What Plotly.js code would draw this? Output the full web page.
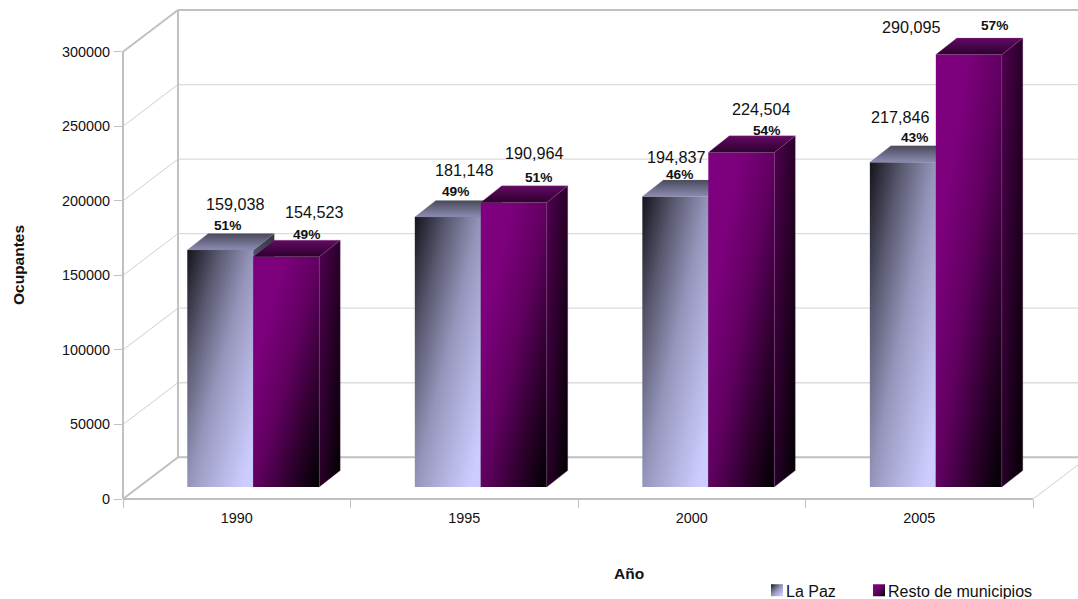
<!DOCTYPE html>
<html>
<head>
<meta charset="utf-8">
<script src="https://cdn.plot.ly/plotly-3.0.1.min.js"></script>
<style>html,body{margin:0;padding:0;background:#fff;overflow:hidden}</style>
</head>
<body>
<div id="chart" style="width:1078px;height:599px"></div>
<script>
// ---- data ----
const years = ['1990', '1995', '2000', '2005'];
const laPaz = [159038, 181148, 194837, 217846];
const resto = [154523, 190964, 224504, 290095];
const pctLaPaz = ['51%', '49%', '46%', '43%'];
const pctResto = ['49%', '51%', '54%', '57%'];
const yTicks = [0, 50000, 100000, 150000, 200000, 250000, 300000];

// ---- label placement, px from (category centre, value) ----
const offLaPazVal = [[-1, 58], [0, 59], [-15, 52], [-19, 57]];
const offRestoVal = [[78, 57], [70, 61], [70, 55], [-8, 39]];
const offLaPazPct = [[-9, 36], [-9, 37], [-12, 34], [-5, 37]];
const offRestoPct = [[70, 34], [74, 37], [75, 34], [75, 41]];

// ---- geometry of the pseudo-3D box ----
const W = 1078, H = 599, L = 122.7, T = 10, B = 498.7;
const pxPerCat = 227.6, pxPerUnit = 149 / 100000;
const xMin = -0.5, xMax = -0.5 + (W - L) / pxPerCat;
const yMin = 0, yMax = (B - T) / pxPerUnit;
const px = p => p / pxPerCat, py = p => p / pxPerUnit;
const wallDx = px(55), wallDy = py(41.7);
const barDx = px(21), barDy = py(16.5), barLift = py(11.9), barW = px(66);
const offA = px(-49.5), offB = px(16.5);
const fx = v => (v - xMin) / (xMax - xMin), fy = v => (v - yMin) / (yMax - yMin);

const GRAY = '#c0c0c0', LIGHT = '#dcdcdc';
const seg = (x0, y0, x1, y1, color, width) => ({
  type: 'line', layer: 'below', xref: 'paper', yref: 'paper',
  x0: fx(x0), y0: fy(y0), x1: fx(x1), y1: fy(y1), line: { color, width }
});
const shapes = [];
yTicks.forEach(v => {
  const edge = v === 0 || v === 300000;
  shapes.push(seg(xMin + wallDx, v + wallDy, xMax, v + wallDy, edge ? GRAY : LIGHT, edge ? 2 : 1.3));
  shapes.push(seg(xMin, v, xMin + wallDx, v + wallDy, edge ? GRAY : '#cfcfcf', edge ? 2 : 1));
});
shapes.push(seg(xMin, 0, xMin, 300000, GRAY, 2));
shapes.push(seg(xMin + wallDx, wallDy, xMin + wallDx, 300000 + wallDy, GRAY, 2));
shapes.push(seg(xMin, 0, 3.5, 0, GRAY, 2));
shapes.push(seg(3.5, 0, xMax, wallDy * (xMax - 3.5) / wallDx, '#cfcfcf', 1));

// ---- traces ----
const cats = years.map((_, i) => i);
const font = 'Liberation Sans, Arial, sans-serif';
const faces = (vals, off, xa, topKey, sideKey, edge) => vals.flatMap((v, i) => {
  const x0 = i + off, x1 = x0 + barW, y = v + barLift, y0 = barLift;
  const common = { type: 'scatter', mode: 'lines', fill: 'toself', xaxis: xa, yaxis: 'y',
    hoverinfo: 'skip', showlegend: false, line: { color: edge, width: 0.5 } };
  return [
    Object.assign({}, common, { fillcolor: sideKey,
      x: [x1, x1 + barDx, x1 + barDx, x1, x1], y: [y0, y0 + barDy, y + barDy, y, y0] }),
    Object.assign({}, common, { fillcolor: topKey,
      x: [x0, x0 + barDx, x1 + barDx, x1, x0], y: [y, y + barDy, y + barDy, y, y] })
  ];
});
const data = [
  { type: 'bar', name: 'La Paz', x: cats, y: laPaz, base: barLift, width: barW, offset: offA,
    xaxis: 'x', yaxis: 'y', marker: { color: 'rgb(204,204,255)', line: { width: 0 } }, hoverinfo: 'y' },
  ...faces(laPaz, offA, 'x', 'rgb(101,101,131)', 'rgb(41,41,51)', 'rgba(120,120,150,0.4)'),
  { type: 'bar', name: 'Resto de municipios', x: cats, y: resto, base: barLift, width: barW, offset: offB,
    xaxis: 'x2', yaxis: 'y', marker: { color: 'rgb(128,0,128)', line: { width: 0 } }, hoverinfo: 'y' },
  ...faces(resto, offB, 'x2', 'rgb(71,0,71)', 'rgb(51,0,51)', 'rgba(140,80,140,0.55)')
];

// ---- labels ----
const labels = (vals, texts, offs, size, bold) => vals.map((v, i) => ({
  xref: 'x', yref: 'y', x: i, y: v, xshift: offs[i][0], yshift: offs[i][1],
  text: bold ? '<b>' + texts[i] + '</b>' : texts[i], showarrow: false,
  xanchor: 'center', yanchor: 'middle', font: { family: font, size, color: '#111' }
}));
const fmt = a => a.map(v => v.toLocaleString('en-US'));
const annotations = [
  ...labels(laPaz, fmt(laPaz), offLaPazVal, 16.2, false),
  ...labels(resto, fmt(resto), offRestoVal, 16.2, false),
  ...labels(laPaz, pctLaPaz, offLaPazPct, 13.7, true),
  ...labels(resto, pctResto, offRestoPct, 13.7, true),
  { xref: 'paper', yref: 'paper', x: fx(px(629 - L) - 0.5), y: fy(py(B - 573)), text: '<b>Año</b>', showarrow: false,
    xanchor: 'center', yanchor: 'middle', font: { family: font, size: 15.5, color: '#111' } },
  { xref: 'paper', yref: 'paper', x: fx(px(18 - L) - 0.5), y: fy(py(B - 264.5)), text: '<b>Ocupantes</b>', textangle: -90,
    xanchor: 'center', yanchor: 'middle', showarrow: false, font: { family: font, size: 15.5, color: '#111' } }
];

const layout = {
  width: W, height: H, autosize: false, barmode: 'overlay', showlegend: true,
  paper_bgcolor: '#fff', plot_bgcolor: 'rgba(0,0,0,0)',
  margin: { l: L, r: 0, t: T, b: H - B, pad: 0, autoexpand: false },
  font: { family: font, size: 14, color: '#111' },
  xaxis: { range: [xMin, xMax], tickmode: 'array', tickvals: [-0.5, 0.5, 1.5, 2.5, 3.5], ticks: 'outside', ticklen: 8,
    tickcolor: GRAY, tickwidth: 1, showticklabels: false, showgrid: false, zeroline: false, showline: false, fixedrange: true },
  xaxis2: { overlaying: 'x', anchor: 'y', side: 'bottom', range: [xMin, xMax], tickmode: 'array', tickvals: cats, ticktext: years,
    ticks: 'outside', ticklen: 6, tickcolor: 'rgba(0,0,0,0)', showgrid: false, zeroline: false, showline: false,
    tickfont: { family: font, size: 14.4, color: '#111' }, fixedrange: true },
  yaxis: { range: [yMin, yMax], tickmode: 'array', tickvals: yTicks, ticktext: yTicks.map(String), ticks: 'outside', ticklen: 8,
    ticklabelstandoff: 1, tickcolor: GRAY, tickwidth: 1, showgrid: false, zeroline: false, showline: false,
    tickfont: { family: font, size: 14.4, color: '#111' }, fixedrange: true },
  legend: { orientation: 'h', x: fx(px(760 - L) - 0.5), y: fy(py(B - 590)), yanchor: 'middle', xanchor: 'left',
    bgcolor: 'rgba(0,0,0,0)', font: { family: font, size: 16, color: '#111' }, itemclick: false, itemdoubleclick: false },
  shapes, annotations
};

// ---- gradient fills of the bar faces ----
const grads = {
  'rgb(204, 204, 255)': [[0, 0, 1, 1], [[0, '#14141c'], [0.25, '#5a5a72'], [0.5, '#9595bb'], [0.75, '#b8b8e6'], [0.92, '#ccccff'], [1, '#ccccff']]],
  'rgb(128, 0, 128)': [[0, 0, 1, 1], [[0, '#800080'], [0.25, '#7c007c'], [0.5, '#620062'], [0.75, '#300030'], [1, '#000000']]],
  'rgb(101, 101, 131)': [[0, 0, 0, 1], [[0, '#4a4a5a'], [1, '#8c8cb4']]],
  'rgb(41, 41, 51)': [[0, 0, 1, 1], [[0, '#55556a'], [1, '#15151c']]],
  'rgb(71, 0, 71)': [[0, 0, 0, 1], [[0, '#620a62'], [1, '#2e002e']]],
  'rgb(51, 0, 51)': [[0, 0, 1, 1], [[0, '#520052'], [1, '#000000']]]
};
Plotly.newPlot('chart', data, layout, { displayModeBar: false }).then(gd => {
  const NS = 'http://www.w3.org/2000/svg';
  const svg = gd.querySelector('svg.main-svg');
  let defs = svg.querySelector('defs');
  Object.keys(grads).forEach((k, n) => {
    const [v, stops] = grads[k];
    const g = document.createElementNS(NS, 'linearGradient');
    g.setAttribute('id', 'face' + n);
    ['x1', 'y1', 'x2', 'y2'].forEach((a, i) => g.setAttribute(a, v[i]));
    stops.forEach(s => {
      const st = document.createElementNS(NS, 'stop');
      st.setAttribute('offset', s[0]);
      st.setAttribute('stop-color', s[1]);
      g.appendChild(st);
    });
    defs.appendChild(g);
  });
  const keys = Object.keys(grads);
  gd.querySelectorAll('path').forEach(p => {
    const i = keys.indexOf(p.style.fill);
    if (i >= 0) p.style.fill = 'url(#face' + i + ')';
  });
  // compact legend: swatch right beside its text, as in the original
  const lg = gd.querySelector('.legend');
  const lgBox = lg.getAttribute('transform').match(/translate\(([-\d.]+)[ ,]*([-\d.]+)?/);
  const ox = parseFloat(lgBox[1]);
  const want = [771, 873];
  lg.querySelectorAll('.traces').forEach((t, i) => {
    const tr = t.getAttribute('transform').match(/translate\(([-\d.]+)[ ,]*([-\d.]+)?/);
    t.setAttribute('transform', 'translate(' + (want[i] - ox - 14) + ',' + tr[2] + ')');
    const sym = t.querySelector('.legendsymbols');
    if (sym) sym.setAttribute('transform', 'translate(0,0)');
    const txt = t.querySelector('.legendtext');
    if (txt) txt.setAttribute('x', 29);
  });
  const bg = lg.querySelector('.scrollbox');
  lg.removeAttribute('clip-path');
  if (bg) bg.removeAttribute('clip-path');
});
</script>
</body>
</html>
